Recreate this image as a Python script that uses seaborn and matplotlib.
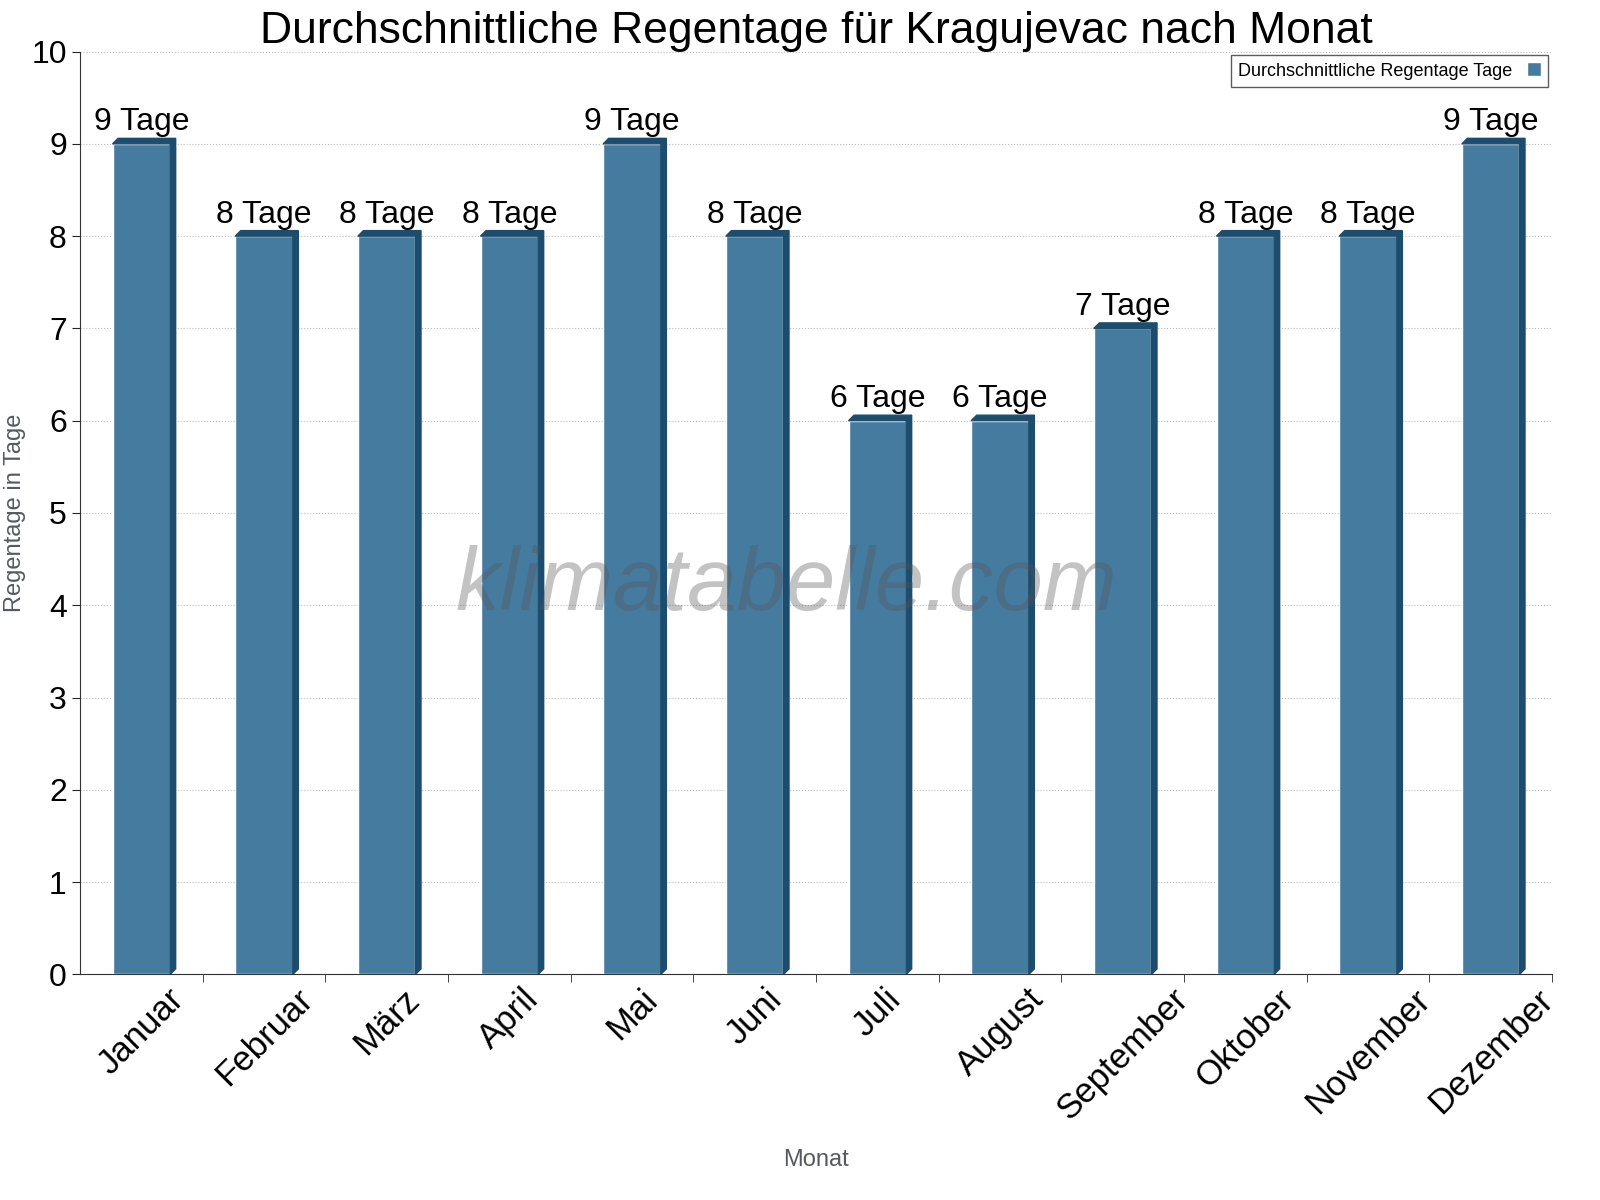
import matplotlib
matplotlib.use('Agg')
import matplotlib.pyplot as plt
from matplotlib.patches import Polygon
import seaborn as sns
import pandas as pd

months = ['Januar', 'Februar', 'März', 'April', 'Mai', 'Juni', 'Juli',
          'August', 'September', 'Oktober', 'November', 'Dezember']
rain_days = [9, 8, 8, 8, 9, 8, 6, 6, 7, 8, 8, 9]

df = pd.DataFrame({'Monat': months, 'Tage': rain_days})

sns.set_style('white')
plt.rcParams['font.family'] = ['Liberation Sans', 'DejaVu Sans']
plt.rcParams['text.color'] = 'black'

fig, ax = plt.subplots(figsize=(16, 12), dpi=100)
fig.subplots_adjust(left=0.05, right=0.97, top=0.957, bottom=0.188)

sns.barplot(data=df, x='Monat', y='Tage', color='#467ba0', width=0.47,
            saturation=1, ax=ax, label='Durchschnittliche Regentage Tage', zorder=3)

# 3D look: dark side strip and top edge taken from each bar
dx, dy = 0.045, 0.06
for p in ax.patches:
    x0, w, h = p.get_x(), p.get_width(), p.get_height()
    side = Polygon([(x0 + w, 0), (x0 + w + dx, dy), (x0 + w + dx, h + dy), (x0 + w, h)],
                   closed=True, color='#1d4d6e', zorder=3)
    top = Polygon([(x0, h), (x0 + dx, h + dy), (x0 + w + dx, h + dy), (x0 + w, h)],
                  closed=True, color='#1d4d6e', zorder=3)
    ax.add_patch(side)
    ax.add_patch(top)

for i, v in enumerate(rain_days):
    ax.text(i, v + 0.07, f'{v} Tage', ha='center', va='bottom', fontsize=23,
            color='black', zorder=4)

ax.set_xlim(-0.5, len(months) - 0.5)
ax.set_ylim(0, 10)
ax.set_yticks(range(11))
ax.tick_params(axis='y', labelsize=23, length=6, left=True, labelcolor='black')
ax.set_xticks([i + 0.5 for i in range(len(months))], minor=True)
ax.set_xticks(range(len(months)))
ax.set_xticklabels(months, rotation=45, ha='center', fontsize=25, color='black')
ax.tick_params(axis='x', which='major', length=0, pad=6)
ax.tick_params(axis='x', which='minor', length=6, bottom=True)
ax.yaxis.grid(True, linestyle=':', color='#bbbbbb', zorder=0)

for s in ['top', 'right']:
    ax.spines[s].set_visible(False)
ax.spines['left'].set_color('#333333')
ax.spines['bottom'].set_color('#333333')

ax.set_title('Durchschnittliche Regentage für Kragujevac nach Monat', fontsize=32,
             pad=6, color='black')
ax.set_ylabel('Regentage in Tage', fontsize=17, color='#555a60')
ax.set_xlabel('Monat', fontsize=17, color='#555a60', labelpad=16)

ax.text(0.48, 0.42, 'klimatabelle.com', transform=ax.transAxes, fontsize=64,
        style='italic', color='#555555', alpha=0.35, ha='center', va='center', zorder=5)

ax.legend(loc='upper right', markerfirst=False, fontsize=13, frameon=True,
          fancybox=False, edgecolor='#333333', handlelength=0.8, handleheight=0.8,
          borderaxespad=0.2)

fig.savefig('out.png', dpi=100)
